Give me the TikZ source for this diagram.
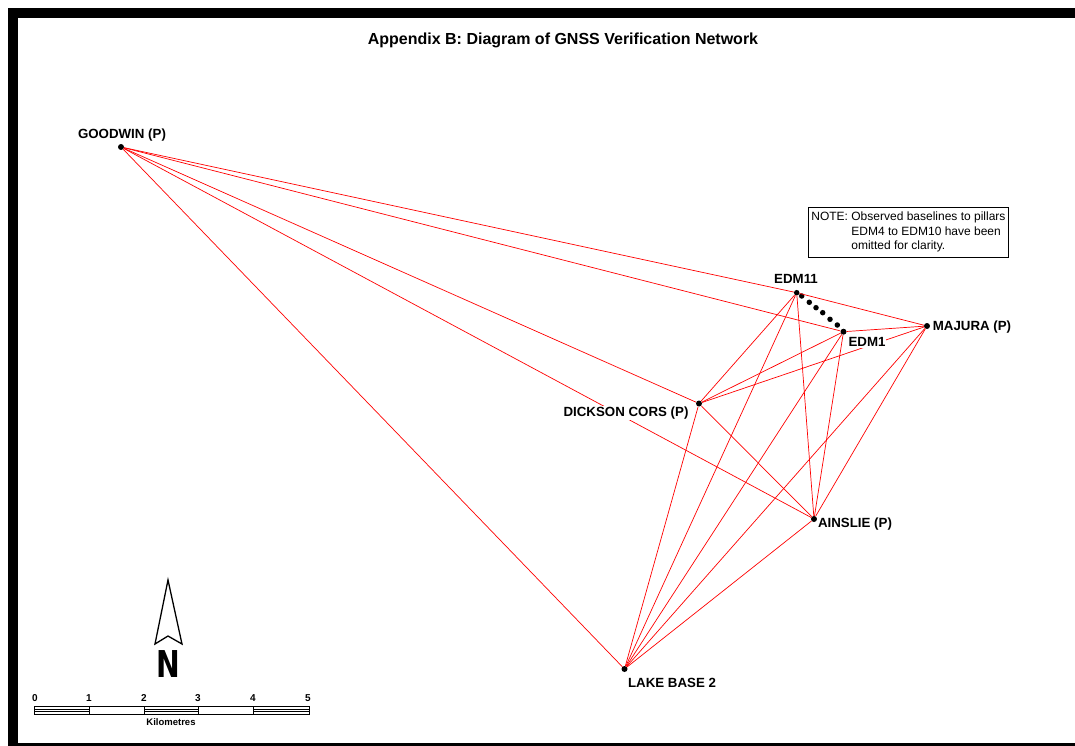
\documentclass[tikz,border=0pt]{standalone}
\usepackage{fontspec}
\setmainfont{Liberation Sans}
\newfontfamily\northfont{DejaVu Sans Condensed}
\begin{document}
\begin{tikzpicture}[x=1pt,y=-1pt,
  base/.style={draw=red,line width=0.7pt},
  stn/.style={circle,fill=black,inner sep=0pt,minimum size=6pt},
  pil/.style={circle,fill=black,inner sep=0pt,minimum size=5.5pt},
  lbl/.style={fill=white,inner sep=1pt,font=\fontsize{13.3}{15}\selectfont\bfseries},
  sclbl/.style={inner sep=0pt,font=\fontsize{10}{12}\selectfont\bfseries},
  frame/.style={fill=black}]
\useasboundingbox (0,0) rectangle (1075,746);
% frame
\fill[frame] (8,8) rectangle (1075,18);
\fill[frame] (8,8) rectangle (18,746);
\fill[frame] (18,743) rectangle (1075,746);
% title
\node[font=\fontsize{16}{18}\selectfont\bfseries] (title) at (563,40) {Appendix B: Diagram of GNSS Verification Network};
% stations
\node[stn] (goodwin) at (121,147) {};
\node[pil] (edm11) at (796.7,292.7) {};
\node[pil] (p10) at (801.7,296) {};
\node[pil] (p9) at (809.3,302.3) {};
\node[pil] (p8) at (816,307.7) {};
\node[pil] (p7) at (822.7,312.7) {};
\node[pil] (p6) at (830,319.3) {};
\node[pil] (p5) at (837.3,325) {};
\node[stn] (edm1) at (843.5,331.7) {};
\node[stn] (majura) at (927,326) {};
\node[stn] (dickson) at (699,403.5) {};
\node[stn] (ainslie) at (814,519) {};
\node[stn] (lake) at (624.5,669) {};
% baselines
\draw[base] (goodwin) -- (edm11);
\draw[base] (goodwin) -- (edm1);
\draw[base] (goodwin) -- (dickson);
\draw[base] (goodwin) -- (ainslie);
\draw[base] (goodwin) -- (lake);
\draw[base] (edm11) -- (majura);
\draw[base] (edm11) -- (dickson);
\draw[base] (edm11) -- (ainslie);
\draw[base] (edm11) -- (lake);
\draw[base] (edm1) -- (majura);
\draw[base] (edm1) -- (dickson);
\draw[base] (edm1) -- (ainslie);
\draw[base] (edm1) -- (lake);
\draw[base] (majura) -- (dickson);
\draw[base] (majura) -- (ainslie);
\draw[base] (majura) -- (lake);
\draw[base] (dickson) -- (ainslie);
\draw[base] (dickson) -- (lake);
\draw[base] (ainslie) -- (lake);
% labels
\node[lbl] (lgoodwin) at (122,135) {GOODWIN (P)};
\node[lbl] (ledm11) at (796,279) {EDM11};
\node[lbl] (ledm1) at (867,342) {EDM1};
\node[lbl] (lmajura) at (972,327) {MAJURA (P)};
\node[lbl] (ldickson) at (626,413) {DICKSON CORS (P)};
\node[lbl] (lainslie) at (855,524) {AINSLIE (P)};
\node[lbl] (llake) at (672,683) {LAKE BASE 2};
% note
\node[draw,line width=0.8pt,anchor=north west,inner sep=3pt,font=\fontsize{12}{14.5}\selectfont] (note) at (808,207)
  {\begin{tabular}{@{}l@{\ }l@{}}NOTE: & Observed baselines to pillars\\ & EDM4 to EDM10 have been\\ & omitted for clarity.\end{tabular}};
% north arrow
\draw[line width=1.3pt,line join=miter] (168,580) -- (182,644) -- (168,636) -- (155,644) -- cycle;
\node[font=\fontsize{37}{37}\northfont\bfseries,xscale=0.85,inner sep=0pt] (north) at (168,664) {N};
% scale bar
\draw[line width=0.8pt] (34,706) rectangle (309,714);
\foreach \x in {89,144,198,253} \draw[line width=0.8pt] (\x,706) -- (\x,714);
\foreach \a/\b in {34/89,144/198,253/309} {
  \draw[line width=0.6pt] (\a,709) -- (\b,709);
  \draw[line width=0.6pt] (\a,711.2) -- (\b,711.2);
}
\foreach \x/\t in {35/0,89/1,144/2,198/3,253/4,308/5} \node[sclbl] at (\x,698) {\t};
\node[sclbl,font=\fontsize{9.5}{11}\selectfont\bfseries] (km) at (171,722) {Kilometres};
\end{tikzpicture}
\end{document}
